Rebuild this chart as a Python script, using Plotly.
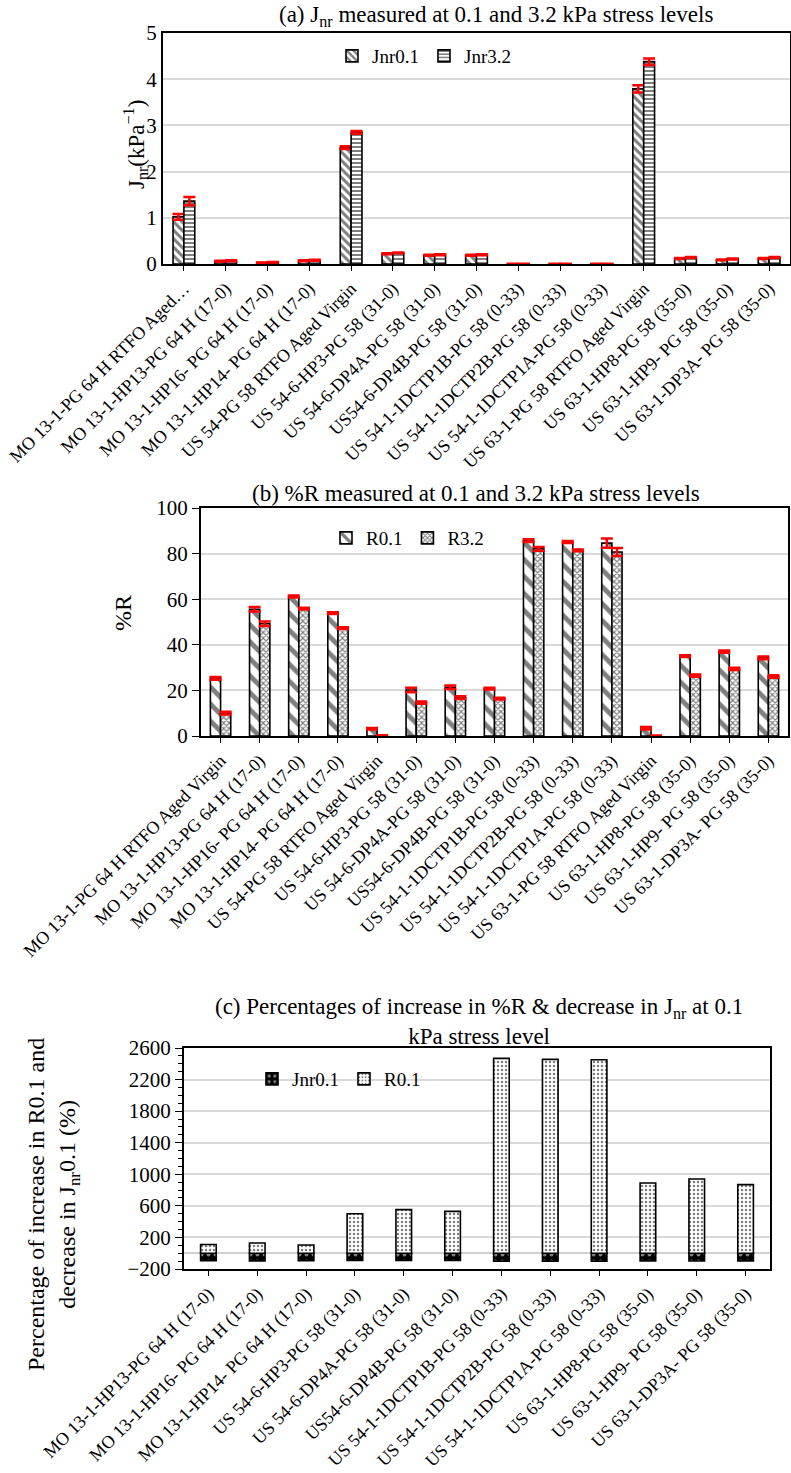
import plotly.graph_objects as go

W, H = 791, 1473
FONT = "Liberation Serif"

# ---------------- data ----------------
cats_a = ["MO 13-1-PG 64 H RTFO Aged…", "MO 13-1-HP13-PG 64 H (17-0)", "MO 13-1-HP16- PG 64 H (17-0)",
          "MO 13-1-HP14- PG 64 H (17-0)", "US 54-PG 58 RTFO Aged Virgin", "US 54-6-HP3-PG 58 (31-0)",
          "US 54-6-DP4A-PG 58 (31-0)", "US54-6-DP4B-PG 58 (31-0)", "US 54-1-1DCTP1B-PG 58 (0-33)",
          "US 54-1-1DCTP2B-PG 58 (0-33)", "US 54-1-1DCTP1A-PG 58 (0-33)", "US 63-1-PG 58 RTFO Aged Virgin",
          "US 63-1-HP8-PG 58 (35-0)", "US 63-1-HP9- PG 58 (35-0)", "US 63-1-DP3A- PG 58 (35-0)"]
cats_b = ["MO 13-1-PG 64 H RTFO Aged Virgin"] + cats_a[1:]
cats_c = ["MO 13-1-HP13-PG 64 H (17-0)", "MO 13-1-HP16- PG 64 H (17-0)", "MO 13-1-HP14- PG 64 H (17-0)",
          "US 54-6-HP3-PG 58 (31-0)", "US 54-6-DP4A-PG 58 (31-0)", "US54-6-DP4B-PG 58 (31-0)",
          "US 54-1-1DCTP1B-PG 58 (0-33)", "US 54-1-1DCTP2B-PG 58 (0-33)", "US 54-1-1DCTP1A-PG 58 (0-33)",
          "US 63-1-HP8-PG 58 (35-0)", "US 63-1-HP9- PG 58 (35-0)", "US 63-1-DP3A- PG 58 (35-0)"]

jnr01 = [1.02, 0.06, 0.03, 0.07, 2.52, 0.22, 0.19, 0.19, 0.005, 0.005, 0.005, 3.79, 0.12, 0.09, 0.12]
jnr01_err = [0.06, 0.01, 0.005, 0.01, 0.03, 0.01, 0.01, 0.01, 0.002, 0.002, 0.002, 0.08, 0.01, 0.01, 0.01]
jnr32 = [1.36, 0.07, 0.04, 0.08, 2.85, 0.24, 0.20, 0.20, 0.005, 0.005, 0.005, 4.38, 0.14, 0.11, 0.14]
jnr32_err = [0.09, 0.01, 0.005, 0.01, 0.03, 0.01, 0.01, 0.01, 0.002, 0.002, 0.002, 0.07, 0.01, 0.01, 0.01]

r01 = [25.3, 55.6, 61.2, 53.9, 3.2, 20.2, 21.4, 20.8, 85.7, 85.1, 84.6, 3.4, 35.0, 37.0, 34.3]
r01_err = [0.6, 1.0, 0.4, 0.4, 0.3, 1.0, 0.8, 0.4, 0.6, 0.4, 2.0, 0.5, 0.4, 0.5, 0.6]
r32 = [10.0, 49.2, 55.9, 47.3, 0.2, 14.6, 16.8, 16.4, 82.1, 81.4, 80.7, 0.1, 26.5, 29.4, 26.1]
r32_err = [0.6, 1.0, 0.4, 0.4, 0.1, 0.5, 0.6, 0.4, 0.8, 0.4, 1.8, 0.1, 0.5, 0.5, 0.5]

pct_jnr01 = [-94, -97, -96, -91, -92, -92, -100, -100, -100, -97, -98, -97]
pct_r01 = [110, 130, 105, 500, 552, 530, 2468, 2456, 2452, 889, 940, 869]


def px(v):
    return v / W


def py(v):
    return 1 - v / H


LINE = dict(color="black", width=1.6)
ERR = dict(color="red", thickness=2.5, width=6)

fig = go.Figure()

# ---- (a) ----
fig.add_trace(go.Bar(x=cats_a, y=jnr01, name="Jnr0.1", xaxis="x", yaxis="y", legend="legend",
                     error_y=dict(type="data", array=jnr01_err, **ERR),
                     marker=dict(color="white", line=LINE,
                                 pattern=dict(shape="\\", fgcolor="black", bgcolor="white", size=6, solidity=0.5))))
fig.add_trace(go.Bar(x=cats_a, y=jnr32, name="Jnr3.2", xaxis="x", yaxis="y", legend="legend",
                     error_y=dict(type="data", array=jnr32_err, **ERR),
                     marker=dict(color="white", line=LINE,
                                 pattern=dict(shape="-", fgcolor="black", bgcolor="white", size=4, solidity=0.5))))

# ---- (b) ----
fig.add_trace(go.Bar(x=cats_b, y=r01, name="R0.1", xaxis="x2", yaxis="y2", legend="legend2",
                     error_y=dict(type="data", array=r01_err, **ERR),
                     marker=dict(color="white", line=LINE,
                                 pattern=dict(shape="\\", fgcolor="black", bgcolor="white", size=12, solidity=0.4))))
fig.add_trace(go.Bar(x=cats_b, y=r32, name="R3.2", xaxis="x2", yaxis="y2", legend="legend2",
                     error_y=dict(type="data", array=r32_err, **ERR),
                     marker=dict(color="white", line=LINE,
                                 pattern=dict(shape="x", fgcolor="black", bgcolor="white", size=4, solidity=0.5))))

# ---- (c) ----
fig.add_trace(go.Bar(x=cats_c, y=pct_jnr01, name="Jnr0.1", xaxis="x3", yaxis="y3", legend="legend3",
                     width=0.32, offset=-0.16,
                     marker=dict(color="black", line=LINE,
                                 pattern=dict(shape=".", fgcolor="white", bgcolor="black", size=7, solidity=0.25))))
fig.add_trace(go.Bar(x=cats_c, y=pct_r01, name="R0.1", xaxis="x3", yaxis="y3", legend="legend3",
                     width=0.32, offset=-0.16,
                     marker=dict(color="white", line=LINE,
                                 pattern=dict(shape=".", fgcolor="black", bgcolor="white", size=4, solidity=0.3))))

tickx = dict(family=FONT, size=18, color="black")
ticky = dict(family=FONT, size=21, color="black")


def xax(dom, anchor):
    return dict(domain=dom, anchor=anchor, type="category", tickangle=-45, tickfont=tickx,
                showline=True, linecolor="black", linewidth=2, mirror=True,
                ticks="outside", ticklen=5, tickcolor="black", showgrid=False, automargin=False)


def yax(dom, anchor, rng, dtick, tick0=0, ticks="outside"):
    return dict(domain=dom, anchor=anchor, range=rng, dtick=dtick, tick0=tick0, tickfont=ticky,
                showline=True, linecolor="black", linewidth=2, mirror=True,
                ticks=ticks, ticklen=7, tickcolor="black",
                showgrid=True, gridcolor="#d9d9d9", gridwidth=1.5, zeroline=False, automargin=False)


ya3 = yax([py(1269), py(1048)], "x3", [-200, 2600], 400, tick0=-200)
ya3["zeroline"] = True
ya3["zerolinecolor"] = "#d0d0d0"
ya3["zerolinewidth"] = 2
ya3["minor"] = dict(dtick=100, tick0=-200, ticks="outside", ticklen=4, tickcolor="black", showgrid=False)

legfont = dict(family=FONT, size=19, color="black")
leg = dict(orientation="h", bgcolor="rgba(0,0,0,0)", font=legfont, xanchor="left", yanchor="middle",
           itemwidth=30, tracegroupgap=0)

fig.update_layout(
    width=W, height=H, margin=dict(l=0, r=0, t=0, b=0),
    paper_bgcolor="white", plot_bgcolor="white",
    barmode="group", bargap=0.48, bargroupgap=0,
    font=dict(family=FONT, color="black"),
    xaxis=xax([px(163), px(790)], "y"),
    yaxis=yax([py(264), py(33)], "x", [0, 5], 1, ticks=""),
    xaxis2=xax([px(201), px(788)], "y2"),
    yaxis2=yax([py(736), py(508)], "x2", [0, 100], 20),
    xaxis3=xax([px(184), px(770)], "y3"),
    yaxis3=ya3,
    legend=dict(leg, x=px(332), y=py(56)),
    legend2=dict(leg, x=px(326), y=py(538)),
    legend3=dict(leg, x=px(252), y=py(1079)),
)

titlefont = dict(family=FONT, size=23, color="black")
ann = [
    dict(text="(a) J<sub>nr</sub> measured at 0.1 and 3.2 kPa stress levels", x=px(496), y=py(16)),
    dict(text="(b) %R measured at 0.1 and 3.2 kPa stress levels", x=px(476), y=py(493)),
    dict(text="(c) Percentages of increase in %R &amp; decrease in J<sub>nr</sub> at 0.1<br>kPa stress level",
         x=px(479), y=py(1021)),
    dict(text="J<sub>nr</sub>(kPa<sup>−1</sup>)", x=px(135), y=py(145), textangle=-90),
    dict(text="%R", x=px(123), y=py(613), textangle=-90, font=dict(family=FONT, size=24, color="black")),
    dict(text="Percentage of increase in R0.1 and<br>decrease in J<sub>nr</sub>0.1 (%)", x=px(53), y=py(1205),
         textangle=-90, font=dict(family=FONT, size=24, color="black")),
]
for a in ann:
    a.setdefault("font", titlefont)
    fig.add_annotation(xref="paper", yref="paper", xanchor="center", yanchor="middle",
                       showarrow=False, **a)

fig.write_html("out.html")
